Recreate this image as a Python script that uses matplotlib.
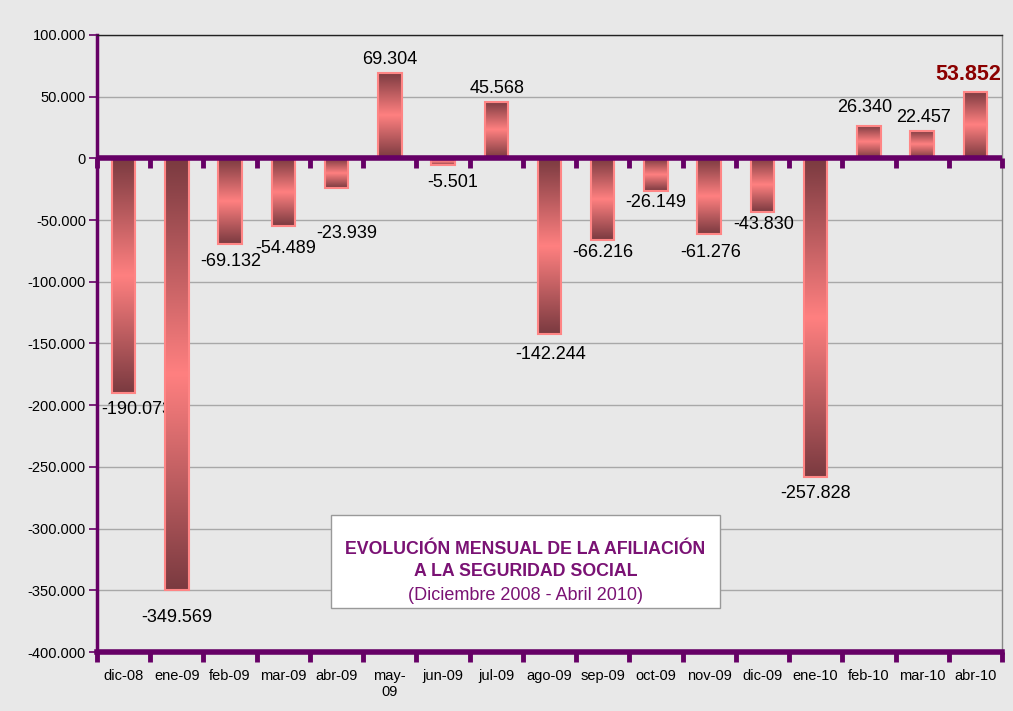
import matplotlib
matplotlib.use("Agg")
import matplotlib.pyplot as plt
import numpy as np
from matplotlib.colors import LinearSegmentedColormap
from matplotlib.ticker import FuncFormatter, FixedLocator
from matplotlib.patches import Rectangle
from matplotlib.markers import TICKDOWN

plt.rcParams['font.family'] = ['Liberation Sans', 'DejaVu Sans']

categories = ["dic-08", "ene-09", "feb-09", "mar-09", "abr-09", "may-\n09", "jun-09",
              "jul-09", "ago-09", "sep-09", "oct-09", "nov-09", "dic-09", "ene-10",
              "feb-10", "mar-10", "abr-10"]
values = [-190073, -349569, -69132, -54489, -23939, 69304, -5501, 45568, -142244,
          -66216, -26149, -61276, -43830, -257828, 26340, 22457, 53852]
value_labels = ["-190.073", "-349.569", "-69.132", "-54.489", "-23.939", "69.304", "-5.501",
                "45.568", "-142.244", "-66.216", "-26.149", "-61.276", "-43.830",
                "-257.828", "26.340", "22.457", "53.852"]
# label offsets in pixels (dx, dy downward) from bar end
label_offsets_px = [(13, 16.5), (0, 28), (1, 18), (2, 23), (10, 46), (0, -13.5), (10, 17),
                    (1, -14), (1, 20.5), (0, 12), (0, 12), (1, 18.5), (1, 12), (0, 17),
                    (-4, -18.5), (1, -13), (-7, -17)]

purple = '#660066'
title_purple = '#7A1274'
bg = '#E8E8E8'

fig = plt.figure(figsize=(10.13, 7.11), dpi=100, facecolor=bg)
ax = fig.add_axes([97/1013, 1-652/711, (1002-97)/1013, (652-35)/711])
ax.set_facecolor(bg)

n = len(categories)
x = np.arange(n)
bounds = np.arange(-0.5, n, 1.0)

# grid
ax.yaxis.set_major_locator(FixedLocator(np.arange(-400000, 100001, 50000)))
ax.grid(axis='y', color='#A8A8A8', lw=1, zorder=0)
ax.set_axisbelow(True)

cmap = LinearSegmentedColormap.from_list('g', ['#7A3A40', '#FF8080', '#7A3A40'])
grad = np.linspace(0, 1, 256).reshape(-1, 1)

bars = ax.bar(x, values, width=0.44, facecolor='none', edgecolor='#FF8585', lw=1.5, zorder=4)
for b in bars:
    x0, y0 = b.get_x(), b.get_y()
    w, h = b.get_width(), b.get_height()
    ax.imshow(grad, cmap=cmap, aspect='auto', extent=[x0, x0+w, y0, y0+h],
              origin='lower', zorder=3, interpolation='bilinear')
ax.set_xlim(-0.5, n-0.5)
ax.set_ylim(-400000, 100000)

for i, (v, lab, (dx, dy)) in enumerate(zip(values, value_labels, label_offsets_px)):
    last = (i == n-1)
    ax.annotate(lab, xy=(x[i], v), xytext=(dx*0.72, -dy*0.72), textcoords='offset points',
                ha='center', va='center', fontsize=15.5 if last else 13,
                fontweight='bold' if last else 'normal',
                color='#8B0000' if last else 'black', zorder=2, annotation_clip=False)

# zero line with tick marks
ax.axhline(0, color=purple, lw=4, zorder=5, solid_capstyle='butt')
ax.plot(bounds, np.zeros_like(bounds), ls='none', marker=TICKDOWN, markersize=7,
        mew=3.5, color=purple, zorder=5, clip_on=False)

# bottom axis
ax.set_xticks(x)
ax.set_xticklabels(categories, fontsize=10.5)
ax.xaxis.set_minor_locator(FixedLocator(bounds))
ax.tick_params(axis='x', which='major', length=0, pad=12)
ax.tick_params(axis='x', which='minor', direction='out', length=7, width=3.5, color=purple)
ax.spines['bottom'].set_color(purple)
ax.spines['bottom'].set_linewidth(4)

ax.yaxis.set_major_formatter(FuncFormatter(lambda v, p: f"{int(v):,}".replace(",", ".")))
ax.tick_params(axis='y', direction='out', length=6, width=1.2, color=purple, labelsize=10.5, pad=2)
ax.spines['left'].set_color(purple)
ax.spines['left'].set_linewidth(2.5)
ax.spines['top'].set_color('#222222')
ax.spines['top'].set_linewidth(1)
ax.spines['right'].set_color('#888888')
ax.spines['right'].set_linewidth(1)

# title box
fig.patches.append(Rectangle((331/1013, 1-608/711), 389/1013, 93/711, transform=fig.transFigure,
                             facecolor='white', edgecolor='#999999', lw=1, zorder=5))
cx = 525.5/1013
fig.text(cx, 1-549.5/711, "EVOLUCIÓN MENSUAL DE LA AFILIACIÓN", ha='center', va='center',
         fontsize=12.8, fontweight='bold', color=title_purple, zorder=6)
fig.text(cx, 1-572/711, "A LA SEGURIDAD SOCIAL", ha='center', va='center',
         fontsize=12.8, fontweight='bold', color=title_purple, zorder=6)
fig.text(cx, 1-595/711, "(Diciembre 2008 - Abril 2010)", ha='center', va='center',
         fontsize=13, color=title_purple, zorder=6)

fig.savefig('out.png', dpi=100, facecolor=bg)
